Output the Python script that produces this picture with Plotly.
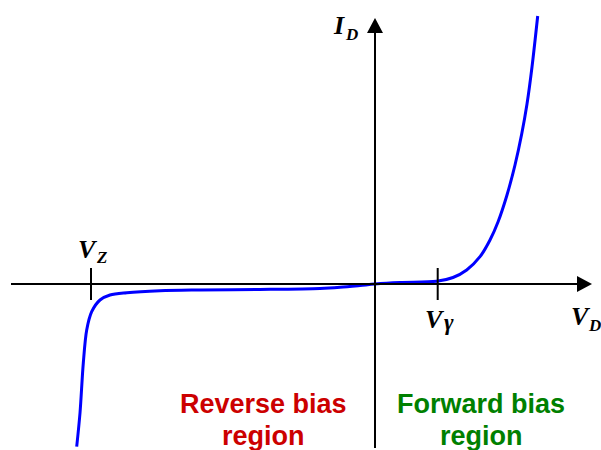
import plotly.graph_objects as go

# Diode I-V characteristic (arbitrary units, origin at the axis crossing)
v_d = [-298.3, -295.0, -291.7, -288.3, -283.3, -275.0, -265.0, -248.3, -215.0,
       -175.0, -115.0, -55.0, -35.0, -15.0, 0.0, 25.0, 61.7, 78.0, 91.7, 105.0,
       115.0, 123.0, 131.7, 140.0, 146.7, 152.0, 157.0, 162.7]
i_d = [-162.7, -129.0, -79.0, -46.0, -27.7, -16.0, -11.0, -8.7, -6.7,
       -6.0, -5.5, -4.5, -3.3, -1.5, 0.0, 1.5, 2.7, 6.5, 14.0, 27.3,
       44.0, 62.0, 88.0, 119.0, 150.0, 180.0, 217.0, 268.0]

# Marked voltages on the horizontal axis
v_zener = -284.0
v_gamma = 62.7

# Axis extents
x_min, x_max, x_tip = -364.0, 202.0, 217.0
y_min, y_max, y_tip = -164.0, 251.0, 266.0
tick_half = 16.0
head_half = 8.0

X_RANGE = [-375, 226]
Y_RANGE = [-166, 284]

fig = go.Figure()

fig.add_trace(go.Scatter(
    x=v_d, y=i_d, mode="lines",
    line=dict(color="#0000FF", width=3, shape="spline", smoothing=0.9),
    hoverinfo="skip", showlegend=False,
))

shapes = [
    # horizontal axis
    dict(type="line", x0=x_min, x1=x_max, y0=0, y1=0,
         line=dict(color="black", width=2)),
    dict(type="path", fillcolor="black", line=dict(width=0),
         path=f"M {x_max},{-head_half} L {x_tip},0 L {x_max},{head_half} Z"),
    # vertical axis
    dict(type="line", x0=0, x1=0, y0=y_min, y1=y_max,
         line=dict(color="black", width=2)),
    dict(type="path", fillcolor="black", line=dict(width=0),
         path=f"M {-head_half},{y_max} L 0,{y_tip} L {head_half},{y_max} Z"),
    # tick marks at Vz and Vgamma
    dict(type="line", x0=v_zener, x1=v_zener, y0=-tick_half, y1=tick_half,
         line=dict(color="black", width=2)),
    dict(type="line", x0=v_gamma, x1=v_gamma, y0=-tick_half, y1=tick_half,
         line=dict(color="black", width=2)),
]

serif = "Liberation Serif, Times New Roman, serif"
sans = "Liberation Sans, Arial, sans-serif"


def label(x, y, text, size, family=serif, color="black"):
    return dict(x=x, y=y, xref="x", yref="y", text=text, showarrow=False,
                xanchor="center", yanchor="middle",
                font=dict(family=family, size=size, color=color))


annotations = [
    # I_D
    label(-36, 259, "<b><i>I</i></b>", 26),
    label(-24, 250, "<b><i>D</i></b>", 17),
    # V_Z
    label(-287, 35, "<b><i>V</i></b>", 26),
    label(-273.5, 26.5, "<b><i>Z</i></b>", 17),
    # V_gamma
    label(60, -35, "<b><i>V</i></b>", 26),
    label(73.5, -38, "<b><i>γ</i></b>", 23),
    # V_D
    label(206, -32, "<b><i>V</i></b>", 26),
    label(219.5, -41, "<b><i>D</i></b>", 17),
    # region captions
    label(-112, -120, "<b>Reverse bias</b>", 27, sans, "#CC0000"),
    label(-112, -152, "<b>region</b>", 27, sans, "#CC0000"),
    label(106, -120, "<b>Forward bias</b>", 27, sans, "#008000"),
    label(106, -152, "<b>region</b>", 27, sans, "#008000"),
]

fig.update_layout(
    width=601, height=450,
    margin=dict(l=0, r=0, t=0, b=0),
    paper_bgcolor="white", plot_bgcolor="white",
    xaxis=dict(range=X_RANGE, visible=False, fixedrange=True),
    yaxis=dict(range=Y_RANGE, visible=False, fixedrange=True),
    shapes=shapes,
    annotations=annotations,
)

fig.write_html("out.html")
